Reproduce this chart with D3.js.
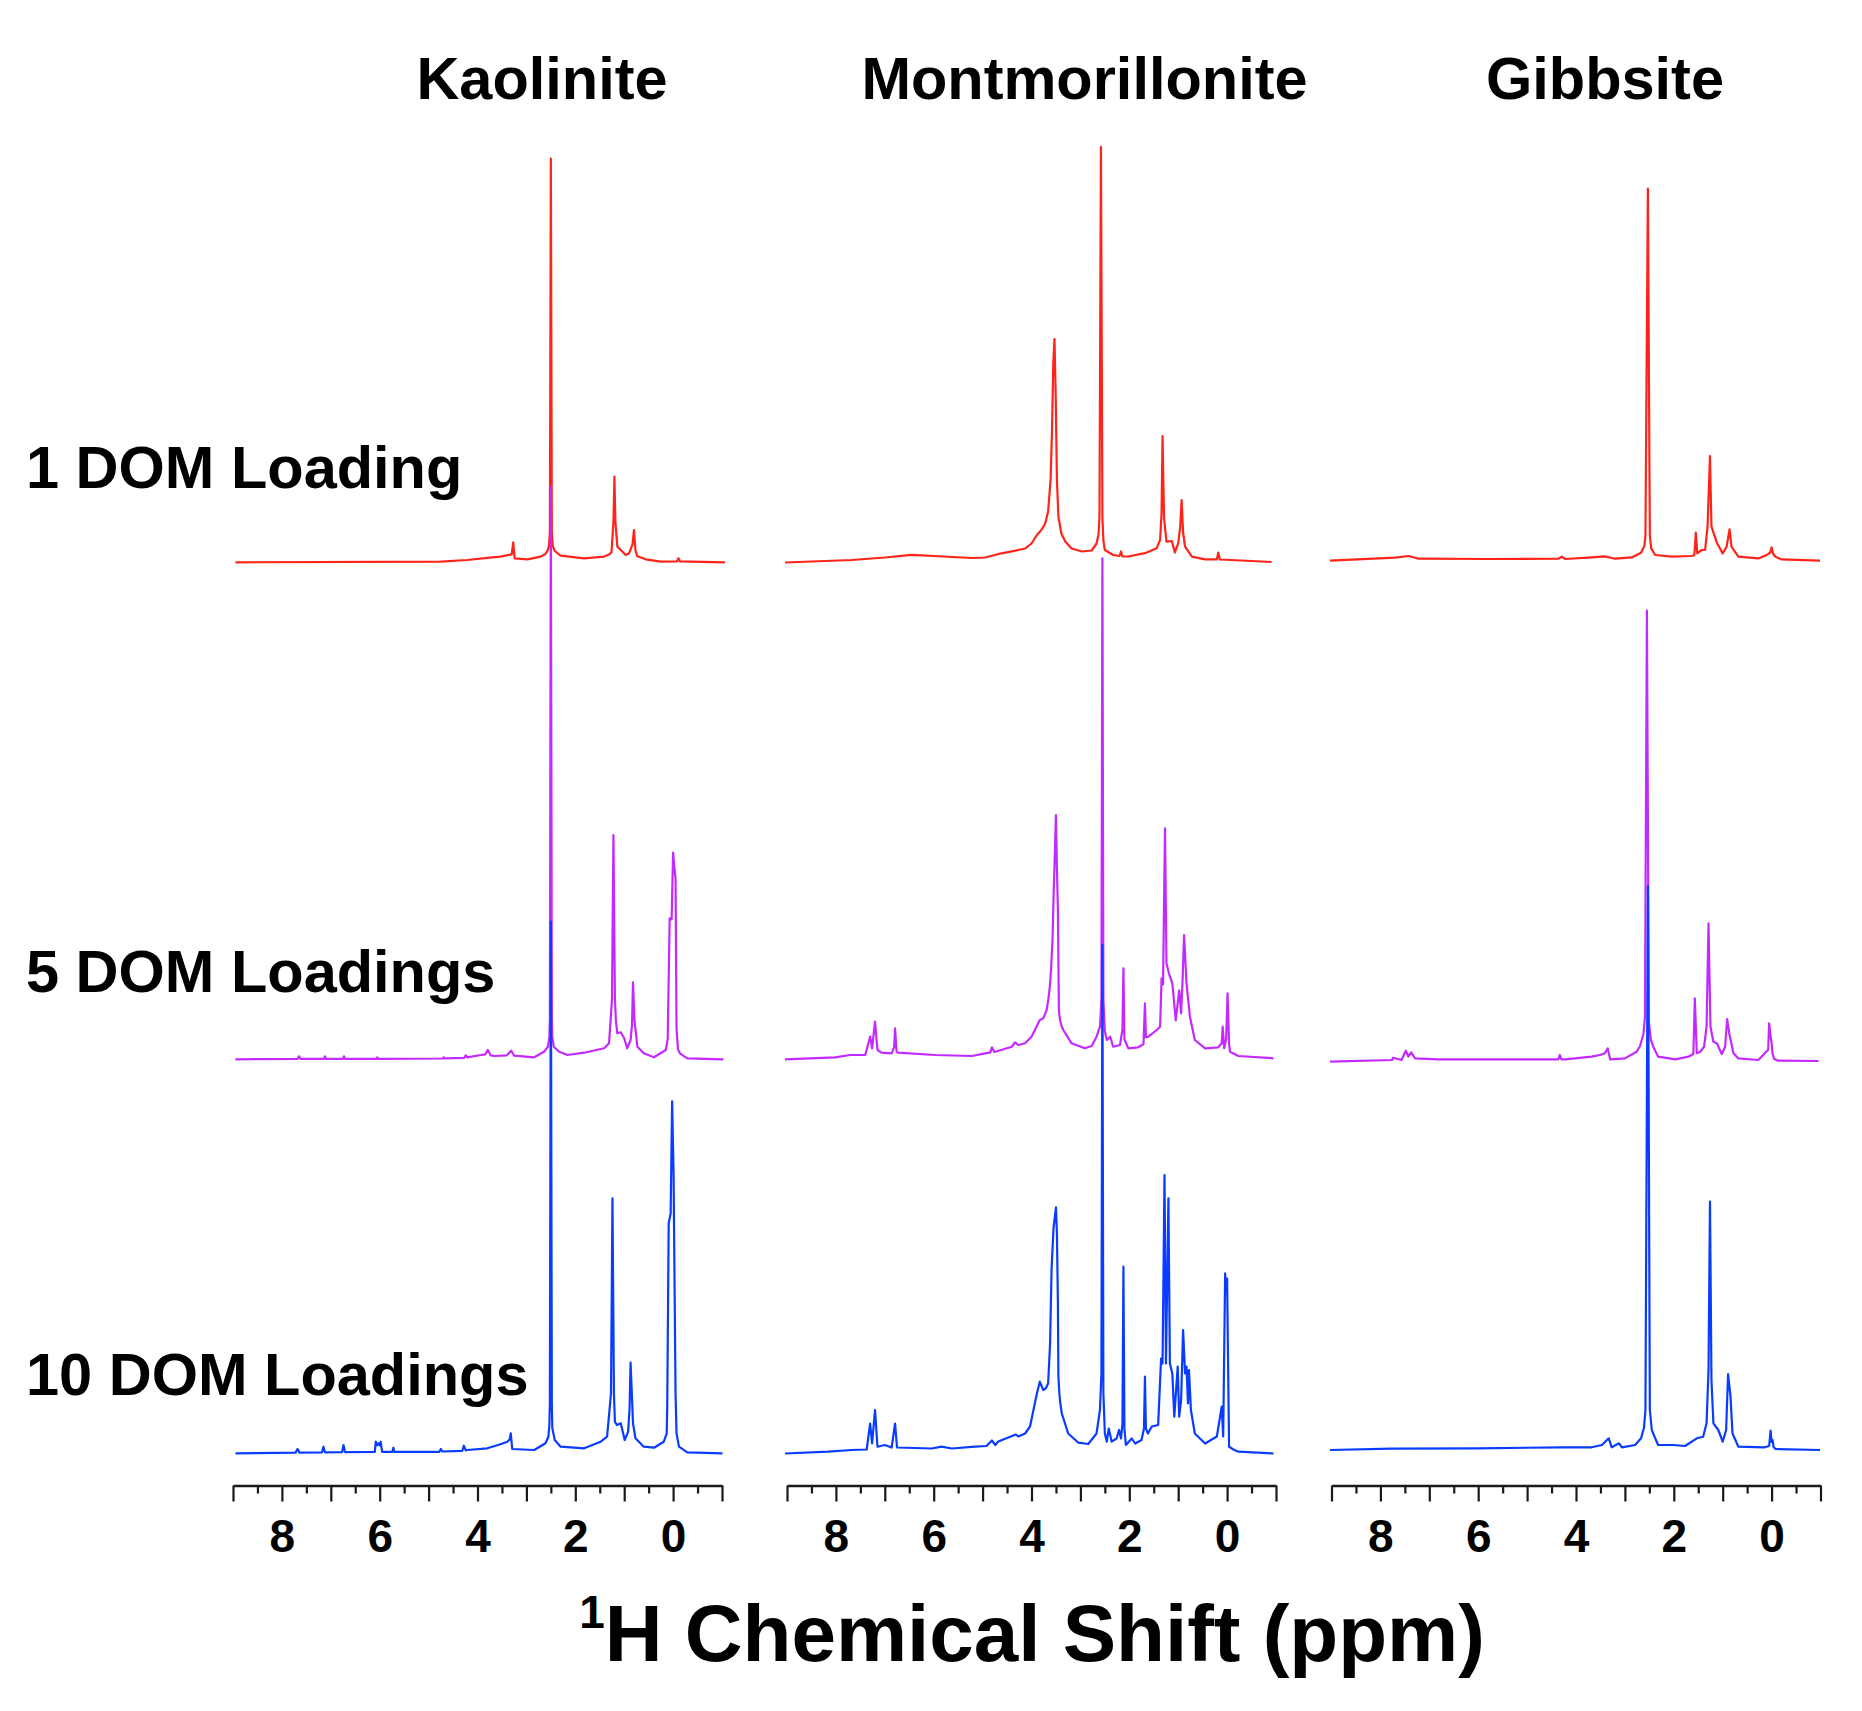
<!DOCTYPE html>
<html><head><meta charset="utf-8">
<script src="https://cdn.jsdelivr.net/npm/d3@7"></script>
<style>
html,body{margin:0;padding:0;background:#fff;}
svg{display:block;}
text{font-family:"Liberation Sans",Arial,sans-serif;font-weight:bold;fill:#000;}
</style>
</head><body><div id="chart"></div>
<script>
// ---------- data ----------
const minerals = ["Kaolinite", "Montmorillonite", "Gibbsite"];
const loadings = ["1 DOM Loading", "5 DOM Loadings", "10 DOM Loadings"];
const seriesColors = ["#ff2419", "#c42aff", "#0a3cff"];
const majorTicks = [9, 8, 7, 6, 5, 4, 3, 2, 1, 0, -1];
const minorTicks = [8.5, 7.5, 6.5, 5.5, 4.5, 3.5, 2.5, 1.5, 0.5, -0.5];
const tickLabels = [8, 6, 4, 2, 0];
const axisTitleSup = "1";
const axisTitleMain = "H Chemical Shift (ppm)";

// spectra: [ppm, intensity]
const kaoRed = [[8.95,0],[4.75,0.6],[4.21,2.3],[3.70,5],[3.53,5.7],[3.30,8],[3.27,20],[3.24,4],[2.98,3],[2.71,5.7],[2.62,8],[2.57,11.3],[2.54,16],[2.52,30],[2.50,403.6],[2.48,30],[2.46,16],[2.42,11.3],[2.30,6.7],[1.82,4],[1.41,5.7],[1.30,8],[1.26,10],[1.22,40],[1.20,85.6],[1.18,40],[1.14,15.6],[1.07,12.3],[0.97,7.3],[0.90,9],[0.83,18],[0.80,32.3],[0.77,12],[0.73,6],[0.56,3],[0.25,0.6],[-0.08,1],[-0.11,4],[-0.14,1],[-1.06,0]];
const kaoMagenta = [[8.95,0],[7.68,0.5],[7.65,3],[7.62,0.5],[7.14,0.5],[7.12,3],[7.10,0.5],[6.75,0.5],[6.73,3],[6.71,0.5],[6.07,0.5],[6.05,2],[6.03,0.5],[4.71,0.8],[4.69,2],[4.67,1],[4.27,1.5],[4.24,4],[4.21,2],[3.93,4.3],[3.84,5],[3.79,9.3],[3.73,4],[3.66,3.3],[3.40,4],[3.31,8.6],[3.25,3.6],[2.84,2],[2.64,7.6],[2.56,12.6],[2.53,22],[2.52,40],[2.50,572.6],[2.48,40],[2.47,22],[2.44,12.6],[2.33,7.6],[2.16,4.3],[1.82,6.6],[1.41,11],[1.31,16],[1.25,60],[1.22,224.3],[1.19,60],[1.17,39],[1.14,26],[1.07,27],[1.00,21],[0.94,11],[0.87,19],[0.84,35],[0.82,77],[0.79,39],[0.73,12.6],[0.60,6],[0.39,2],[0.15,9.3],[0.11,20],[0.10,52.6],[0.07,141],[0.03,140],[0.00,206.6],[-0.03,190],[-0.05,181],[-0.07,31],[-0.10,10],[-0.14,6],[-0.29,1],[-1.03,0]];
const kaoBlue = [[8.95,0],[7.72,0.7],[7.68,4.3],[7.64,0.7],[7.18,1],[7.15,6.6],[7.12,1],[6.77,1.2],[6.74,8.3],[6.71,1.2],[6.10,1.5],[6.08,11.6],[6.05,8],[6.03,10],[6.00,8],[5.98,11.6],[5.95,1.5],[5.74,1.5],[5.72,5.6],[5.70,1.5],[4.78,1.5],[4.75,4.3],[4.72,1.8],[4.31,2.5],[4.28,7.6],[4.24,3],[4.21,3.3],[3.80,5],[3.53,9],[3.39,11.6],[3.34,14],[3.32,20],[3.29,4.3],[2.84,3.3],[2.61,10],[2.55,16.6],[2.53,28],[2.52,50],[2.50,531.6],[2.48,50],[2.47,25],[2.42,13.3],[2.30,6.6],[1.82,5],[1.48,11.6],[1.35,16.6],[1.27,60],[1.24,255],[1.21,60],[1.19,31.6],[1.15,28.3],[1.07,30],[0.99,13.3],[0.92,21.6],[0.89,45],[0.87,90.6],[0.84,55],[0.82,30],[0.77,15],[0.60,6.6],[0.39,5.6],[0.19,11.6],[0.13,20],[0.12,46.6],[0.09,230],[0.05,240],[0.02,352],[-0.01,278],[-0.05,60],[-0.07,20],[-0.12,6.6],[-0.29,1],[-1.01,0]];

const montRed = [[9.04,0],[7.68,2.5],[7.00,5],[6.45,7.7],[5.80,6],[5.22,4.5],[4.95,5],[4.61,9.2],[4.27,12.5],[4.13,14],[4.00,19],[3.89,27.5],[3.79,33],[3.72,39],[3.66,51],[3.61,82.5],[3.58,132.5],[3.555,199],[3.53,223.5],[3.505,166],[3.48,82.5],[3.45,46],[3.39,29],[3.31,21],[3.18,14],[2.97,11],[2.77,12],[2.67,19],[2.63,28],[2.61,45],[2.58,415.7],[2.55,45],[2.53,22],[2.50,12.5],[2.33,7.5],[2.20,6.5],[2.17,11],[2.14,6],[2.02,6],[1.68,9.3],[1.44,14.3],[1.37,22.5],[1.34,50],[1.32,126.5],[1.29,45],[1.24,20.8],[1.13,21.5],[1.07,10],[1.00,19.2],[0.96,35],[0.93,62.5],[0.90,30],[0.86,15.8],[0.72,5.8],[0.45,3.2],[0.21,3.2],[0.18,10],[0.15,3],[-0.50,1.5],[-0.91,0.5]];
const montMagenta = [[9.04,0],[8.02,2],[7.71,4.3],[7.40,4.3],[7.30,22.7],[7.26,11],[7.20,37.7],[7.15,9.3],[7.07,6.6],[6.86,6],[6.81,12],[6.79,31],[6.76,8],[6.74,6.6],[5.97,4.3],[5.22,3.3],[4.95,6],[4.84,7],[4.81,12],[4.76,7.3],[4.40,12.6],[4.34,17],[4.27,14.3],[4.13,16],[4.00,22.6],[3.83,39.3],[3.76,41],[3.69,49.3],[3.65,62],[3.62,75],[3.60,90],[3.57,120],[3.55,160],[3.52,210],[3.50,244.3],[3.48,190],[3.46,149],[3.44,49.3],[3.42,40],[3.39,34],[3.35,29.3],[3.18,16],[2.91,11],[2.77,13.3],[2.67,22.6],[2.60,32.6],[2.57,60],[2.55,501],[2.53,60],[2.50,28],[2.46,19.3],[2.39,22.6],[2.33,12.6],[2.19,14.3],[2.14,30],[2.12,91],[2.10,20],[2.02,11],[1.82,12],[1.71,15],[1.68,56],[1.66,22],[1.61,22.6],[1.44,29.3],[1.37,32.6],[1.34,81],[1.31,75],[1.27,231],[1.24,96],[1.19,86],[1.12,76],[1.05,39],[0.98,69],[0.94,46],[0.91,80],[0.88,124.3],[0.83,76],[0.76,42.6],[0.66,19.3],[0.45,11],[0.18,12],[0.11,16],[0.09,32.6],[0.06,11],[0.02,20],[-0.01,66],[-0.04,15],[-0.06,7.6],[-0.23,3.3],[-0.95,1]];
const montBlue = [[9.04,0],[8.16,1.8],[7.68,3.5],[7.37,4],[7.30,30],[7.26,10],[7.20,43.5],[7.15,6.8],[7.00,8.5],[6.86,6],[6.79,30],[6.75,6],[6.04,5],[5.84,6.8],[5.63,5],[5.16,6.8],[4.92,7.5],[4.81,13],[4.74,8.5],[4.68,12],[4.32,19],[4.27,17],[4.13,20],[4.03,27],[3.96,43.5],[3.89,60],[3.83,71.8],[3.76,63.5],[3.71,65],[3.66,70],[3.62,110],[3.59,183.5],[3.55,225],[3.50,246.2],[3.48,220],[3.46,150],[3.45,77],[3.43,60],[3.41,50],[3.38,40],[3.25,20],[3.04,10.8],[2.84,9.5],[2.67,20],[2.60,43.5],[2.57,80],[2.55,508.5],[2.53,60],[2.50,20],[2.46,11.8],[2.42,25],[2.36,11.8],[2.26,15],[2.21,23.5],[2.17,15],[2.14,30],[2.12,186.8],[2.10,25],[2.07,8.5],[1.95,15],[1.88,10],[1.75,13.5],[1.70,25],[1.68,76.8],[1.66,25],[1.62,20],[1.54,27],[1.41,28.5],[1.35,95],[1.32,90],[1.28,278.5],[1.25,90],[1.20,255.2],[1.17,90],[1.12,80],[1.08,36.8],[1.01,86.8],[0.98,36.8],[0.94,53.5],[0.90,123.5],[0.86,80],[0.83,86.8],[0.80,50],[0.78,83.5],[0.74,43.5],[0.66,20],[0.45,10],[0.21,17],[0.11,46.8],[0.08,17],[0.04,180.2],[0.02,160],[0.00,175],[-0.04,6.8],[-0.13,4],[-0.23,1.8],[-0.95,0]];

const gibRed = [[9.03,0],[7.70,3],[7.42,4.7],[7.22,2],[5.79,1.7],[4.36,2],[4.29,4],[4.22,1.7],[3.68,3.3],[3.41,4.3],[3.20,2],[2.86,3.3],[2.67,8],[2.60,15],[2.58,25],[2.53,372],[2.49,25],[2.46,12],[2.38,5.7],[2.04,4],[1.63,4.7],[1.58,5.7],[1.55,28],[1.52,7.4],[1.43,10.7],[1.36,10.7],[1.31,34],[1.26,104.7],[1.23,34],[1.12,18],[1.00,7.3],[0.92,14],[0.86,31.3],[0.82,14],[0.68,4],[0.27,2.3],[0.10,5.7],[0.03,8],[0.00,13.3],[-0.03,7],[-0.08,4],[-0.20,1.3],[-0.99,0]];
const gibMagenta = [[9.03,0],[7.76,1.7],[7.74,4],[7.57,1.7],[7.48,11],[7.43,5],[7.37,9.3],[7.29,3.3],[6.81,2.3],[6.03,2.3],[5.79,2.3],[5.38,2.3],[4.97,2.3],[4.36,2.3],[4.33,6.7],[4.30,2.3],[4.22,2.3],[3.68,5],[3.51,6.7],[3.41,8.4],[3.35,13.3],[3.30,2.3],[3.00,3.3],[2.76,10],[2.69,15.7],[2.62,28],[2.59,45],[2.55,451],[2.51,40],[2.47,22],[2.42,15],[2.32,5],[1.97,2.3],[1.70,5],[1.60,7.7],[1.57,63.3],[1.53,8.4],[1.46,10],[1.38,15],[1.33,35],[1.29,138.3],[1.25,35],[1.19,20],[1.12,18.4],[1.02,7.7],[0.95,15],[0.91,42.7],[0.86,26.7],[0.78,8.4],[0.68,3.3],[0.27,1.7],[0.14,8.4],[0.07,12],[0.05,38.3],[0.02,25],[0.00,19],[-0.02,8],[-0.05,3],[-0.13,1],[-0.96,0.7]];
const gibBlue = [[9.03,0],[7.77,1.3],[6.00,1.7],[4.29,2.7],[3.68,2.7],[3.47,5],[3.33,11.7],[3.27,2.7],[3.12,6.7],[3.06,2.7],[2.79,5],[2.67,11.7],[2.61,22],[2.58,40],[2.53,564],[2.49,40],[2.45,20],[2.38,11.7],[2.32,5],[2.01,5],[1.77,4],[1.53,11.7],[1.40,13.3],[1.33,26.7],[1.29,80],[1.26,248.3],[1.23,70],[1.19,26.7],[1.09,20],[1.00,8.3],[0.93,20],[0.89,76],[0.84,53.3],[0.80,16.7],[0.68,3.3],[0.14,2.7],[0.05,4],[0.02,19.3],[0.00,8],[-0.02,10],[-0.04,3],[-0.08,1],[-0.99,0]];

const spectra = [
  [kaoRed, kaoMagenta, kaoBlue],
  [montRed, montMagenta, montBlue],
  [gibRed, gibMagenta, gibBlue]
];

// ---------- layout ----------
const W = 1862, H = 1711;
const panelRange = [[233, 722], [787, 1276], [1331.5, 1820.5]];
const rowBase = [[562.3, 1059.3, 1453.3], [562.5, 1059.3, 1453.5], [560.7, 1061.7, 1450]];
const axisY = 1485.5;
const titleX = [542, 1084.5, 1605];
const titleY = 99;
const rowLabelX = 26;
const rowLabelY = [488.3, 991.7, 1395];

const svg = d3.select("#chart").append("svg")
  .attr("width", W).attr("height", H)
  .attr("viewBox", `0 0 ${W} ${H}`);
svg.append("rect").attr("width", W).attr("height", H).attr("fill", "#fff");

minerals.forEach((m, p) => {
  const x = d3.scaleLinear().domain([9, -1]).range(panelRange[p]);

  // spectra
  spectra[p].forEach((data, r) => {
    const y = d3.scaleLinear().domain([0, 1000]).range([rowBase[p][r], rowBase[p][r] - 1000]);
    const line = d3.line().x(d => x(d[0])).y(d => y(d[1])).curve(d3.curveLinear);
    svg.append("path").datum(data)
      .attr("d", line)
      .attr("fill", "none")
      .attr("stroke", seriesColors[r])
      .attr("stroke-width", 2.2)
      .attr("stroke-linejoin", "round");
  });

  // axis: major
  const gMaj = svg.append("g").attr("transform", `translate(0,${axisY})`)
    .call(d3.axisBottom(x).tickValues(majorTicks).tickSize(16).tickSizeOuter(0).tickPadding(18)
      .tickFormat(d => tickLabels.includes(d) ? String(d) : ""));
  gMaj.select(".domain").attr("stroke", "#1a1a1a").attr("stroke-width", 2.4);
  gMaj.selectAll(".tick line").attr("stroke", "#1a1a1a").attr("stroke-width", 2.2);
  gMaj.selectAll(".tick text")
    .attr("font-family", '"Liberation Sans", Arial, sans-serif')
    .attr("font-weight", "bold").attr("font-size", 46).attr("fill", "#000");
  gMaj.attr("font-size", null).attr("font-family", null);

  // axis: minor
  const gMin = svg.append("g").attr("transform", `translate(0,${axisY})`)
    .call(d3.axisBottom(x).tickValues(minorTicks).tickSize(8).tickSizeOuter(0).tickFormat(""));
  gMin.select(".domain").remove();
  gMin.selectAll(".tick line").attr("stroke", "#1a1a1a").attr("stroke-width", 2.2);

  // title
  svg.append("text").attr("x", titleX[p]).attr("y", titleY)
    .attr("text-anchor", "middle").attr("font-size", 59.5).text(m);
});

// row labels
loadings.forEach((l, r) => {
  svg.append("text").attr("x", rowLabelX).attr("y", rowLabelY[r])
    .attr("font-size", 59.5).text(l);
});

// axis title
const t = svg.append("text").attr("x", 1032).attr("y", 1661).attr("text-anchor", "middle");
t.append("tspan").attr("font-size", 46).attr("dy", -33).text(axisTitleSup);
t.append("tspan").attr("font-size", 80).attr("dy", 33).text(axisTitleMain);
</script>
</body></html>
